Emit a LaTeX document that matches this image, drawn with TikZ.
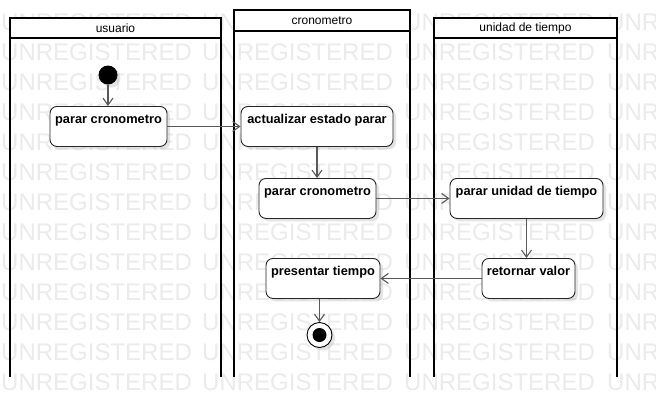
\documentclass[tikz,border=0pt]{standalone}
\usepackage{fontspec}
\setmainfont{Liberation Sans}
\usetikzlibrary{arrows.meta,shadows}
\begin{document}
\begin{tikzpicture}[x=1pt,y=-1pt,
  wm/.style={text=black!8, font=\fontsize{24}{24}\selectfont, anchor=base west, inner sep=0pt},
  lane/.style={draw=black, line width=1.8pt},
  hdr/.style={draw=black, line width=1.8pt, fill=white, anchor=north west, inner sep=0pt, outer sep=0pt, font=\fontsize{12}{14}\selectfont},
  act/.style={draw=black!85, line width=0.9pt, fill=white, rounded corners=7pt, anchor=north,
    inner xsep=0pt, inner ysep=0pt, text height=17pt, text depth=23pt,
    font=\bfseries\fontsize{12.8}{14}\selectfont,
    drop shadow={shadow xshift=3pt, shadow yshift=-3pt, fill=black!30, opacity=0.35}},
  flow/.style={draw=black!65, line width=1.1pt, -{Straight Barb[length=7pt,width=10pt]}}
]
\fill[white] (0,0) rectangle (656,418);
\useasboundingbox (0,0) rectangle (656,418);
% watermark
\foreach \r in {0,...,12}{
  \foreach \c/\xx in {0/1,1/202,2/404,3/607}{
    \node[wm] (wm-\r-\c) at (\xx,{30+30*\r}) {UNREGISTERED};
  }
}
% lanes
\node[hdr, minimum width=211pt, minimum height=20pt] (h1) at (10,18) {usuario};
\node[hdr, minimum width=176pt, minimum height=21pt] (h2) at (234,10) {cronometro};
\node[hdr, minimum width=183pt, minimum height=20pt] (h3) at (434,18) {unidad de tiempo};
\coordinate (b1l) at (10,377);  \coordinate (b1r) at (221,377);
\coordinate (b2l) at (234,377); \coordinate (b2r) at (410,377);
\coordinate (b3l) at (434,377); \coordinate (b3r) at (617,377);
\draw[lane] (h1.south west) -- (b1l);
\draw[lane] (h1.south east) -- (b1r);
\draw[lane] (h2.south west) -- (b2l);
\draw[lane] (h2.south east) -- (b2r);
\draw[lane] (h3.south west) -- (b3l);
\draw[lane] (h3.south east) -- (b3r);
% nodes
\node[circle, fill=black, minimum size=19pt, inner sep=0pt,
  drop shadow={shadow xshift=3pt, shadow yshift=-3pt, fill=black!30, opacity=0.35}] (start) at (108,75) {};
\node[act, minimum width=117pt] (u1) at (108.5,106) {parar cronometro};
\node[act, minimum width=152pt] (c1) at (317,106) {actualizar estado parar};
\node[act, minimum width=117pt] (c2) at (317.5,178) {parar cronometro};
\node[act, minimum width=153pt] (t1) at (526.5,178) {parar unidad de tiempo};
\node[act, minimum width=93pt] (t2) at (528.5,258) {retornar valor};
\node[act, minimum width=114pt] (c3) at (323,258) {presentar tiempo};
\node[circle, draw=black, line width=0.9pt, fill=white, minimum size=25pt, inner sep=0pt,
  drop shadow={shadow xshift=3pt, shadow yshift=-3pt, fill=black!30, opacity=0.35}] (end) at (319.5,335) {};
\node[circle, fill=black, minimum size=14pt, inner sep=0pt] (endin) at (end.center) {};
% flows
\draw[flow] (start) -- (start |- u1.north);
\draw[flow] (u1.east) -- (c1.west);
\draw[flow] (c1.south) -- (c1.south |- c2.north);
\draw[flow] (c2.east) -- (t1.west);
\draw[flow] (t1.south) -- (t1.south |- t2.north);
\draw[flow] (t2.west) -- (c3.east);
\draw[flow] (c3.south -| end.north) -- (end.north);
\end{tikzpicture}
\end{document}
